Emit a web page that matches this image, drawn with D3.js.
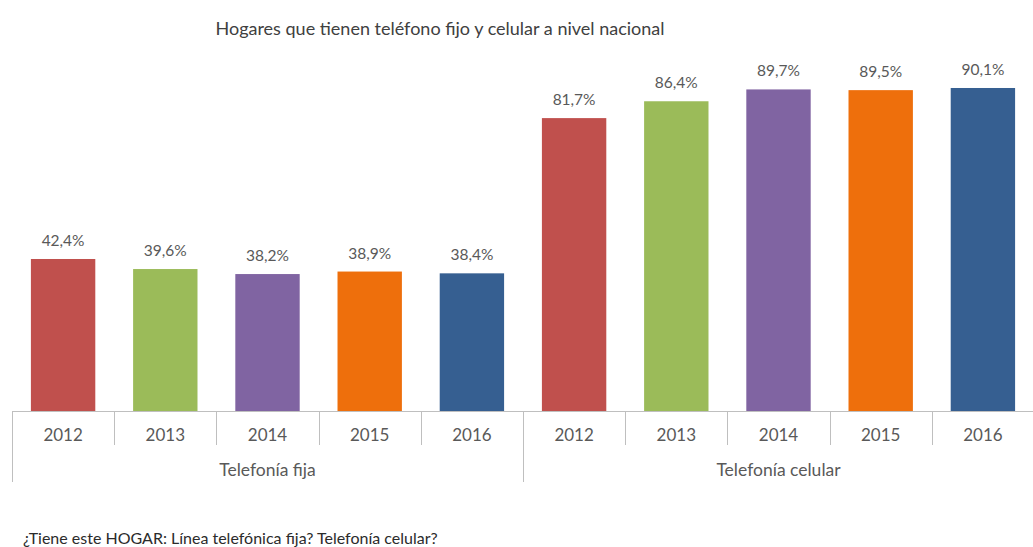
<!DOCTYPE html>
<html><head><meta charset="utf-8">
<script src="https://cdn.jsdelivr.net/npm/d3@7"></script>
<style>
html,body{margin:0;padding:0;background:#fff;}
svg text{font-family:Lato,"Open Sans",sans-serif;}
</style></head>
<body>
<svg id="chart" width="1033" height="547"></svg>
<script>
const title = "Hogares que tienen teléfono fijo y celular a nivel nacional";
const footnote = "¿Tiene este HOGAR: Línea telefónica fija? Telefonía celular?";
const groups = ["Telefonía fija", "Telefonía celular"];
const years = ["2012", "2013", "2014", "2015", "2016"];
const fijaValues = [42.4, 39.6, 38.2, 38.9, 38.4];
const celularValues = [81.7, 86.4, 89.7, 89.5, 90.1];
const yearColors = ["#c0504d", "#9bbb59", "#8064a2", "#ee6f0c", "#365f91"];

const rows = [];
groups.forEach((g, gi) => {
  const vals = gi === 0 ? fijaValues : celularValues;
  years.forEach((y, yi) => rows.push({key: g + "|" + y, group: g, year: y, yi, value: vals[yi]}));
});

const svg = d3.select("#chart");
const x = d3.scaleBand().domain(rows.map(d => d.key)).range([12, 1034]).paddingInner(0.37).paddingOuter(0.185);
const y = d3.scaleLinear().domain([0, 100]).range([411, 52.5]);
const step = x.step();
const gridCol = "#bfbfbf";

// title
svg.append("text").attr("x", 440).attr("y", 35).attr("text-anchor", "middle")
  .attr("font-size", 18).attr("fill", "#404040").text(title);

// bars
svg.selectAll("rect.bar").data(rows).join("rect").attr("class", "bar")
  .attr("x", d => x(d.key)).attr("width", x.bandwidth())
  .attr("y", d => y(d.value)).attr("height", d => y(0) - y(d.value))
  .attr("fill", d => yearColors[d.yi]);

// value labels
svg.selectAll("text.val").data(rows).join("text").attr("class", "val")
  .attr("x", d => x(d.key) + x.bandwidth() / 2).attr("y", d => y(d.value) - 13)
  .attr("text-anchor", "middle").attr("font-size", 15.5).attr("fill", "#595959")
  .text(d => d.value.toFixed(1).replace(".", ",") + "%");

// axis
const axisG = svg.append("g").attr("transform", `translate(0,${y(0)})`)
  .call(d3.axisBottom(x).tickSize(0).tickPadding(18).tickFormat(k => k.split("|")[1]));
axisG.select(".domain").attr("stroke", gridCol);
axisG.selectAll(".tick text").attr("font-size", 17).attr("fill", "#595959")
  .style("font-family", "Lato, 'Open Sans', sans-serif");

// dividers
const x0 = x.range()[0];
rows.forEach((d, i) => {
  const xx = Math.round(x0 + i * step) + 0.5;
  const long = i % years.length === 0;
  svg.append("line").attr("x1", xx).attr("x2", xx).attr("y1", y(0)).attr("y2", long ? 482 : 445)
    .attr("stroke", gridCol).attr("stroke-width", 1);
});

// group labels
groups.forEach((g, gi) => {
  svg.append("text").attr("x", x0 + step * years.length * (gi + 0.5)).attr("y", 476)
    .attr("text-anchor", "middle").attr("font-size", 17.5).attr("fill", "#595959").text(g);
});

// footnote
svg.append("text").attr("x", 23).attr("y", 544).attr("font-size", 16).attr("fill", "#2b2b2b").text(footnote);
</script>
</body></html>
